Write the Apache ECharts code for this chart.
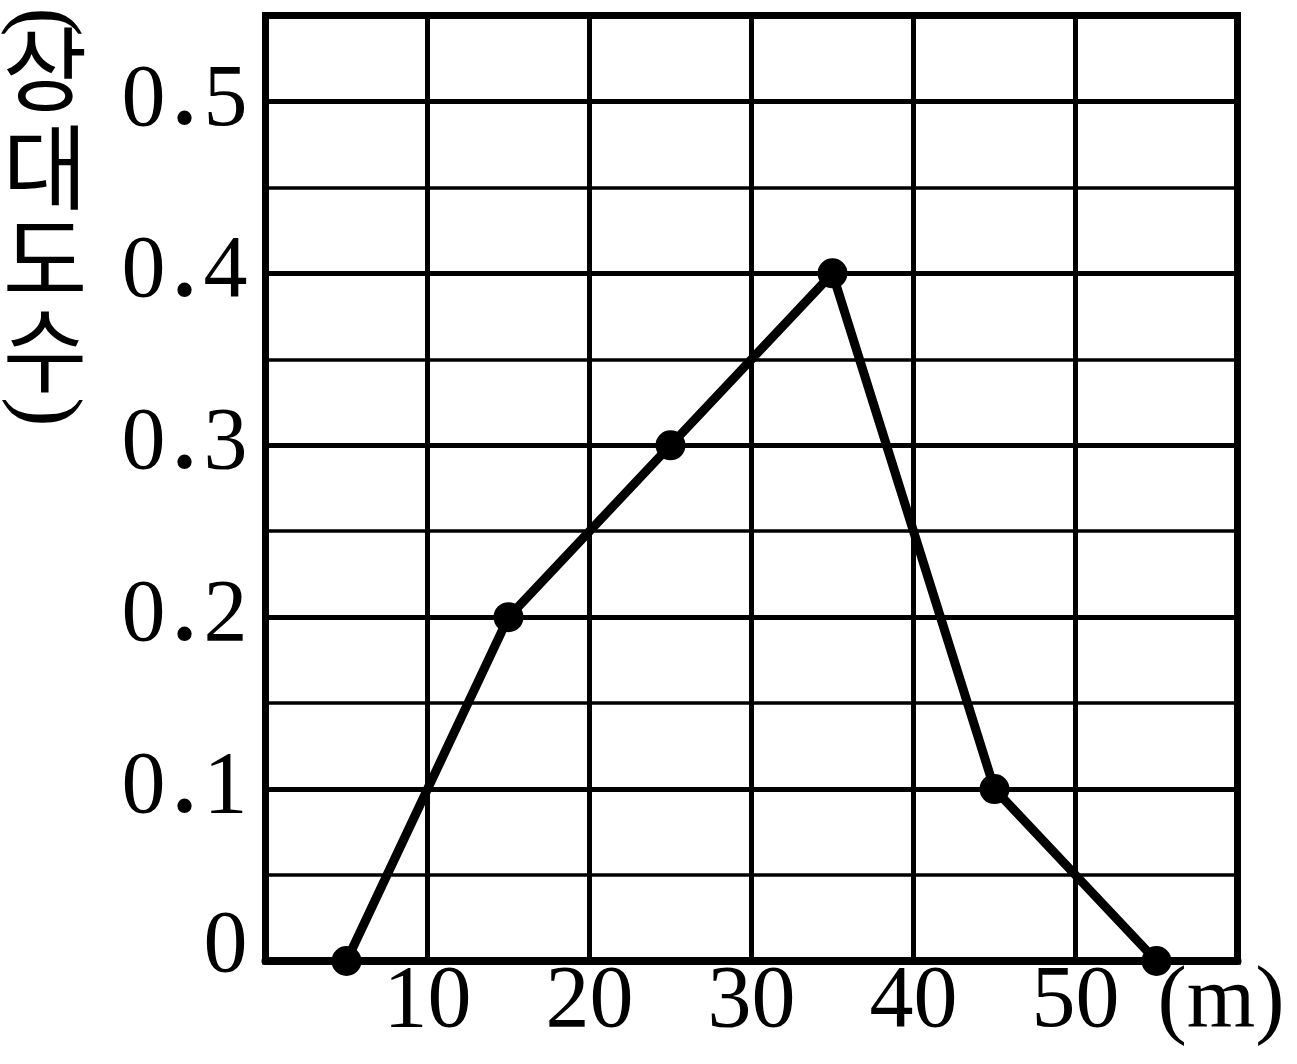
<!DOCTYPE html>
<html>
<head>
<meta charset="utf-8">
<script src="https://cdn.jsdelivr.net/npm/echarts@6/dist/echarts.min.js"></script>
<style>html,body{margin:0;padding:0;background:#fff}#c{width:1297px;height:1064px}</style>
</head>
<body>
<div id="c"></div>
<script>
// Data (class midpoints, relative frequencies)
const distances = [5, 15, 25, 35, 45, 55];
const relativeFreq = [0, 0.2, 0.3, 0.4, 0.1, 0];
const yTitleChars = ['상', '대', '도', '수'];
const xUnit = '(m)';

const serif = '"Liberation Serif", "DejaVu Serif", serif';
const FS = 88;
const CJK = '92px "Noto Sans CJK KR"';

const chart = echarts.init(document.getElementById('c'), null, {renderer: 'canvas'});
const points = distances.map((d, i) => [d, relativeFreq[i]]);

const titleY = [69, 167, 259, 350];
const graphics = [
  {type: 'text', x: 43, y: 22, rotation: -Math.PI / 2, originX: 0, originY: 0,
   style: {text: '(', font: FS + 'px ' + serif, fill: '#000', align: 'center', verticalAlign: 'middle'}},
  {type: 'text', x: 44, y: 412, rotation: -Math.PI / 2, originX: 0, originY: 0,
   style: {text: ')', font: FS + 'px ' + serif, fill: '#000', align: 'center', verticalAlign: 'middle'}},
  {type: 'text', x: 1221, y: 1004,
   style: {text: xUnit, font: FS + 'px ' + serif, fill: '#000', align: 'center', verticalAlign: 'middle'}}
];
yTitleChars.forEach((ch, i) => {
  graphics.push({type: 'text', x: 45, y: titleY[i],
    style: {text: ch, font: CJK, fill: '#000', align: 'center', verticalAlign: 'middle'}});
});

chart.setOption({
  animation: false,
  backgroundColor: '#fff',
  grid: {left: 265.5, right: 59.5, top: 15.5, bottom: 103, show: true, borderColor: '#000', borderWidth: 7, backgroundColor: 'transparent'},
  xAxis: {
    type: 'value', min: 0, max: 60, interval: 10,
    axisLine: {show: true, onZero: false, lineStyle: {color: '#000', width: 8}},
    axisTick: {show: false},
    splitLine: {show: true, lineStyle: {color: '#000', width: 5}},
    axisLabel: {
      margin: -2, color: '#000', fontFamily: serif, fontSize: FS,
      formatter: v => (v > 0 && v < 60) ? String(v) : ''
    }
  },
  yAxis: [{
    type: 'value', min: 0, max: 0.55, interval: 0.1,
    axisLine: {show: true, lineStyle: {color: '#000', width: 7}},
    axisTick: {show: false},
    splitLine: {show: true, lineStyle: {color: '#000', width: 5}},
    axisLabel: {
      margin: 18, color: '#000', fontFamily: serif, fontSize: FS,
      formatter: v => {
        if (v > 0.5 + 1e-9) return '';
        if (v === 0) return '{z|0}';
        const s = v.toFixed(1).split('.');
        return '{d|' + s[0] + '}{p|.}{d|' + s[1] + '}';
      },
      rich: {
        d: {fontFamily: serif, fontSize: FS, color: '#000'},
        p: {fontFamily: serif, fontSize: FS, color: '#000', fontWeight: 'bold', padding: [0, 8, 0, 8]},
        z: {fontFamily: serif, fontSize: FS, color: '#000', padding: [0, 0, 26, 0]}
      }
    }
  }, {
    type: 'value', min: 0, max: 0.55, interval: 0.05,
    axisLine: {show: false}, axisTick: {show: false}, axisLabel: {show: false},
    splitLine: {show: true, lineStyle: {color: '#000', width: 3.5}}
  }],
  series: [{
    type: 'line', data: points, xAxisIndex: 0, yAxisIndex: 0, clip: false,
    symbol: 'circle', symbolSize: 30,
    lineStyle: {color: '#000', width: 9},
    itemStyle: {color: '#000'},
    z: 10
  }],
  graphic: graphics
});
</script>
</body>
</html>
